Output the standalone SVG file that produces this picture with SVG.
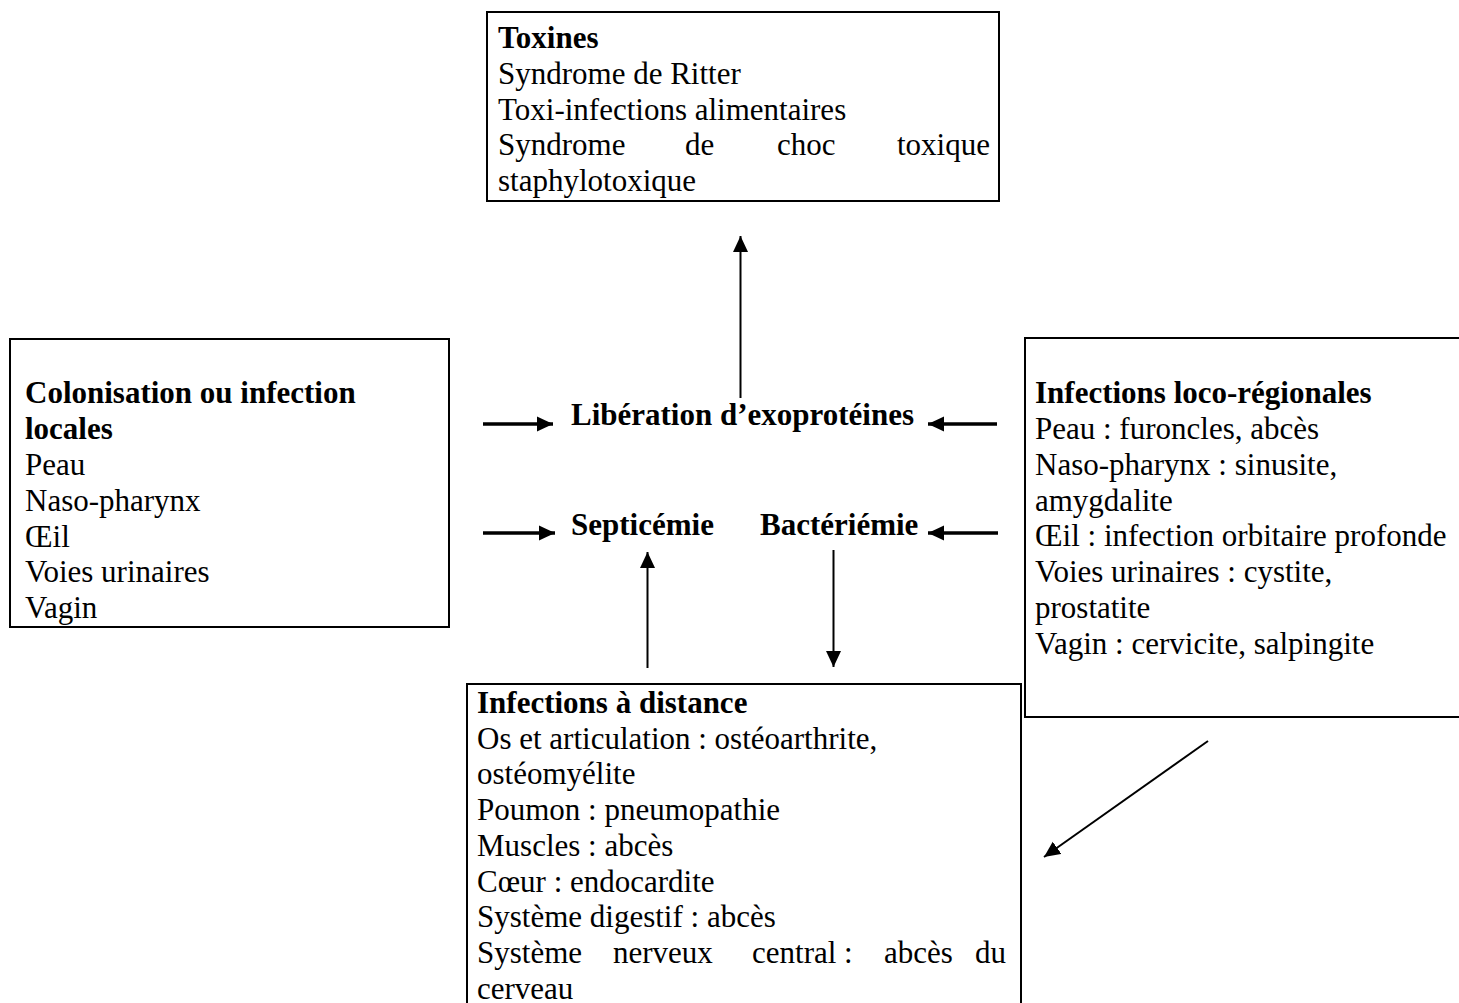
<svg xmlns="http://www.w3.org/2000/svg" width="1459" height="1003" viewBox="0 0 1459 1003">
<style>
text{font-family:"Liberation Serif","Times New Roman",serif;font-size:31px;fill:#000}
.b{font-weight:bold}
.box{fill:#fff;stroke:#000;stroke-width:2}
.thick{stroke:#000;stroke-width:3.5;fill:none}
.thin{stroke:#000;stroke-width:2;fill:none}
</style>
<defs>
<marker id="ah" markerUnits="userSpaceOnUse" markerWidth="17" markerHeight="16" refX="16" refY="8" orient="auto">
<path d="M0,0.5 L16,8 L0,15.5 z" fill="#000"/>
</marker>
</defs>
<rect width="1459" height="1003" fill="#fff"/>

<g id="toxines">
<rect class="box" x="487" y="12" width="512" height="189"/>
<text class="b" x="498" y="48">Toxines</text>
<text x="498" y="84">Syndrome de Ritter</text>
<text x="498" y="119.5">Toxi-infections alimentaires</text>
<text y="155"><tspan x="498">Syndrome</tspan><tspan x="685">de</tspan><tspan x="777">choc</tspan><tspan x="990" text-anchor="end">toxique</tspan></text>
<text x="498" y="190.5">staphylotoxique</text>
</g>

<g id="colonisation">
<rect class="box" x="10" y="339" width="439" height="288"/>
<text class="b" x="25" y="403">Colonisation ou infection</text>
<text class="b" x="25" y="439">locales</text>
<text x="25" y="475">Peau</text>
<text x="25" y="511">Naso-pharynx</text>
<text x="25" y="546.5">Œil</text>
<text x="25" y="582">Voies urinaires</text>
<text x="25" y="618">Vagin</text>
</g>

<g id="loco-regionales">
<rect class="box" x="1025" y="338" width="450" height="379"/>
<text class="b" x="1035" y="403">Infections loco-régionales</text>
<text x="1035" y="439">Peau : furoncles, abcès</text>
<text x="1035" y="474.5">Naso-pharynx : sinusite,</text>
<text x="1035" y="510.5">amygdalite</text>
<text x="1035" y="546">Œil : infection orbitaire profonde</text>
<text x="1035" y="582">Voies urinaires : cystite,</text>
<text x="1035" y="618">prostatite</text>
<text x="1035" y="654">Vagin : cervicite, salpingite</text>
</g>

<g id="distance">
<rect class="box" x="467" y="684" width="554" height="340"/>
<text class="b" x="477" y="713">Infections à distance</text>
<text x="477" y="748.5">Os et articulation : ostéoarthrite,</text>
<text x="477" y="784">ostéomyélite</text>
<text x="477" y="820">Poumon : pneumopathie</text>
<text x="477" y="856">Muscles : abcès</text>
<text x="477" y="891.5">Cœur : endocardite</text>
<text x="477" y="927">Système digestif : abcès</text>
<text y="963"><tspan x="477">Système</tspan><tspan x="613">nerveux</tspan><tspan x="752">central :</tspan><tspan x="884">abcès</tspan><tspan x="1006" text-anchor="end">du</tspan></text>
<text x="477" y="998.5">cerveau</text>
</g>

<g id="liberation">
<text class="b" x="571" y="425">Libération d’exoprotéines</text>
</g>
<g id="septicemie">
<text class="b" x="571" y="535">Septicémie</text>
</g>
<g id="bacteriemie">
<text class="b" x="760" y="535">Bactériémie</text>
</g>

<g id="connectors">
<line class="thin" x1="740.5" y1="398" x2="740.5" y2="236" marker-end="url(#ah)"/>
<line class="thick" x1="483" y1="424" x2="553" y2="424" marker-end="url(#ah)"/>
<line class="thick" x1="997" y1="424" x2="928" y2="424" marker-end="url(#ah)"/>
<line class="thick" x1="483" y1="533" x2="555" y2="533" marker-end="url(#ah)"/>
<line class="thick" x1="998" y1="533" x2="928" y2="533" marker-end="url(#ah)"/>
<line class="thin" x1="647.5" y1="668" x2="647.5" y2="552" marker-end="url(#ah)"/>
<line class="thin" x1="833.5" y1="550" x2="833.5" y2="667" marker-end="url(#ah)"/>
<line class="thin" x1="1208" y1="741" x2="1044" y2="857" marker-end="url(#ah)"/>
</g>
</svg>
